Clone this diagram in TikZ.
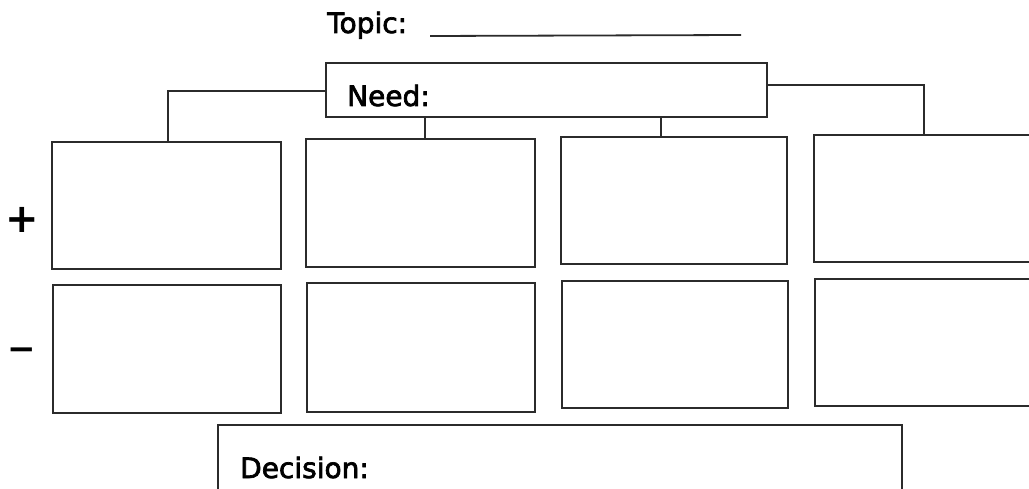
\documentclass[tikz,border=0pt]{standalone}
\usepackage{fontspec}
\setmainfont{DejaVu Sans}
\newfontfamily\handfont{DejaVu Sans}[FakeBold=2.5]
\definecolor{ink}{HTML}{2B2B2B}
\begin{document}
\begin{tikzpicture}[x=1pt,y=-1pt,
  box/.style={draw=ink,line width=1.4pt,rectangle,inner sep=0pt},
  link/.style={draw=ink,line width=1.4pt},
  lbl/.style={font=\handfont\fontsize{28}{30}\selectfont,text=black,anchor=base west,inner sep=0pt},
  sign/.style={font=\bfseries,text=black,anchor=base,inner sep=0pt}]
\useasboundingbox (0,0) rectangle (1029,489);
\clip (0,0) rectangle (1029,489);
\fill[white] (0,0) rectangle (1029,489);
% title
\node[lbl] (topic) at (327,33) {Topic:};
\coordinate (ula) at (430,36);
\coordinate (ulb) at (741,35);
\draw[link,line width=1.8pt] (ula) -- (ulb);
% need box
\node[box,minimum width=441pt,minimum height=54pt] (need) at (546.5,90) {};
\node[lbl] (needt) at (347,106) {Need:};
% row 1
\node[box,minimum width=229pt,minimum height=127pt] (b1) at (166.5,205.5) {};
\node[box,minimum width=229pt,minimum height=128pt] (b2) at (420.5,203) {};
\node[box,minimum width=226pt,minimum height=127pt] (b3) at (674,200.5) {};
\node[box,minimum width=226pt,minimum height=127pt] (b4) at (927,198.5) {};
% row 2
\node[box,minimum width=228pt,minimum height=128pt] (c1) at (167,349) {};
\node[box,minimum width=228pt,minimum height=129pt] (c2) at (421,347.5) {};
\node[box,minimum width=226pt,minimum height=127pt] (c3) at (675,344.5) {};
\node[box,minimum width=225pt,minimum height=127pt] (c4) at (927.5,342.5) {};
% decision
\node[box,minimum width=684pt,minimum height=75pt] (dec) at (560,462.5) {};
\node[lbl] (dect) at (240,478) {Decision:};
% signs
\node[sign,font=\bfseries\fontsize{40}{42}\selectfont] (plus) at (22,232.5) {+};
\node[sign,font=\bfseries\fontsize{34}{36}\selectfont] (minus) at (22,360.6) {−};
% connectors
\coordinate (l1) at (168,91);
\coordinate (r1) at (924,85);
\draw[link] (need.west |- l1) -- (l1) -- (l1 |- b1.north);
\draw[link] (need.east |- r1) -- (r1) -- (r1 |- b4.north);
\coordinate (m1) at (425,0);
\coordinate (m2) at (661,0);
\draw[link] (m1 |- need.south) -- (m1 |- b2.north);
\draw[link] (m2 |- need.south) -- (m2 |- b3.north);
\end{tikzpicture}
\end{document}
